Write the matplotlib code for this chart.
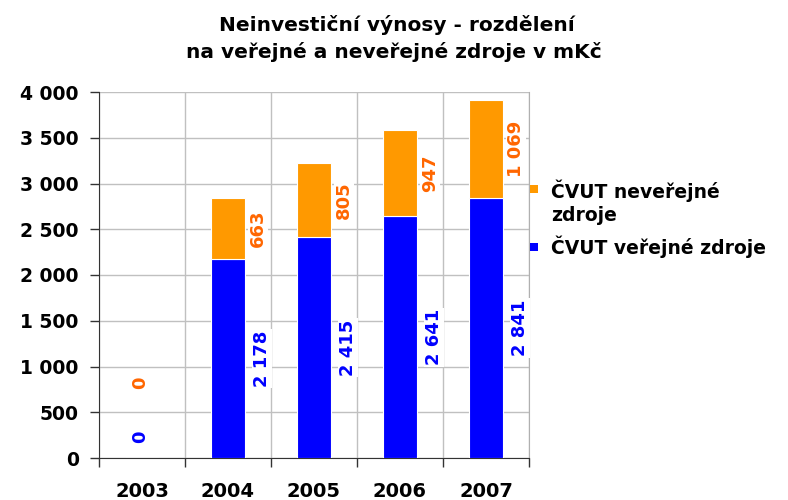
import matplotlib
matplotlib.use("Agg")
import matplotlib.pyplot as plt
import numpy as np
from matplotlib.patches import Rectangle

plt.rcParams['font.family'] = ['DejaVu Sans']

years = ["2003", "2004", "2005", "2006", "2007"]
verejne = [0, 2178, 2415, 2641, 2841]
neverejne = [0, 663, 805, 947, 1069]
verejne_labels = ["0", "2 178", "2 415", "2 641", "2 841"]
neverejne_labels = ["0", "663", "805", "947", "1 069"]
yticks = [0, 500, 1000, 1500, 2000, 2500, 3000, 3500, 4000]
ytick_labels = ["0", "500", "1 000", "1 500", "2 000", "2 500", "3 000", "3 500", "4 000"]
legend_labels = ["ČVUT neveřejné\nzdroje", "ČVUT veřejné zdroje"]

c_blue = "#0000FF"
c_orange = "#FF9900"
c_olab = "#FF6600"

W, H = 788, 500
fig = plt.figure(figsize=(W/100, H/100), dpi=100)
ax = fig.add_axes([99/W, 1-458/H, 430/W, 366/H])

x = np.arange(len(years))
ax.bar(x, verejne, width=0.4, color=c_blue, edgecolor="white", linewidth=0.8, zorder=3)
ax.bar(x, neverejne, width=0.4, bottom=verejne, color=c_orange, edgecolor="white", linewidth=0.8, zorder=3)

ax.set_xlim(-0.5, len(years) - 0.5)
ax.set_ylim(0, 4000)
ax.set_yticks(yticks)
ax.set_yticklabels(ytick_labels, fontsize=13.5, fontweight="bold")
ax.set_xticks(np.arange(-0.5, len(years), 1.0))
ax.set_xticklabels([])
ax.set_xticks(x, minor=True)
ax.set_xticklabels(years, minor=True, fontsize=14, fontweight="bold")
ax.tick_params(axis="x", which="minor", length=0, pad=17)
ax.tick_params(axis="x", which="major", length=6.5, direction="out", width=1, color="#333333")
ax.tick_params(axis="y", length=6.5, direction="out", width=1, color="#333333", pad=8)

ax.grid(True, which="major", color="#c0c0c0", linewidth=1, zorder=0)
ax.set_axisbelow(True)
ax.spines["top"].set_visible(False)
ax.spines["right"].set_color("#b0b0b0")
ax.spines["left"].set_color("#333333")
ax.spines["bottom"].set_color("#333333")

bbox = dict(facecolor="white", edgecolor="none", pad=1)
for i in range(len(years)):
    if verejne[i] == 0 and neverejne[i] == 0:
        ax.annotate(verejne_labels[i], (i, 0), xytext=(-2, 21), textcoords="offset pixels",
                    rotation=90, ha="center", va="center", color=c_blue, fontsize=13,
                    fontweight="bold", zorder=4, bbox=bbox)
        ax.annotate(neverejne_labels[i], (i, 0), xytext=(-2, 75), textcoords="offset pixels",
                    rotation=90, ha="center", va="center", color=c_olab, fontsize=13,
                    fontweight="bold", zorder=4, bbox=bbox)
        continue
    ax.annotate(verejne_labels[i], (i, verejne[i] / 2), xytext=(34, 0), textcoords="offset pixels",
                rotation=90, ha="center", va="center", color=c_blue, fontsize=13,
                fontweight="bold", zorder=4, bbox=bbox)
    ax.annotate(neverejne_labels[i], (i, verejne[i] + neverejne[i] / 2), xytext=(30, 0),
                textcoords="offset pixels", rotation=90, ha="center", va="center",
                color=c_olab, fontsize=13, fontweight="bold", zorder=4, bbox=bbox)

fig.text(397/W, 1 - 25/H, "Neinvestiční výnosy - rozdělení",
         ha="center", va="center", fontsize=14.5, fontweight="bold")
fig.text(394/W, 1 - 52/H, "na veřejné a neveřejné zdroje v mKč",
         ha="center", va="center", fontsize=14.5, fontweight="bold")

# legend
fig.patches.append(Rectangle((530/W, 1 - 193/H), 8/W, 8/H, transform=fig.transFigure,
                             facecolor=c_orange, edgecolor="none"))
fig.patches.append(Rectangle((530/W, 1 - 251/H), 8/W, 8/H, transform=fig.transFigure,
                             facecolor=c_blue, edgecolor="none"))
fig.text(551/W, 1 - 179/H, legend_labels[0], ha="left", va="top", fontsize=13.5,
         fontweight="bold", linespacing=1.3)
fig.text(551/W, 1 - 247/H, legend_labels[1], ha="left", va="center", fontsize=13.5,
         fontweight="bold")

fig.savefig("out.png", dpi=100)
